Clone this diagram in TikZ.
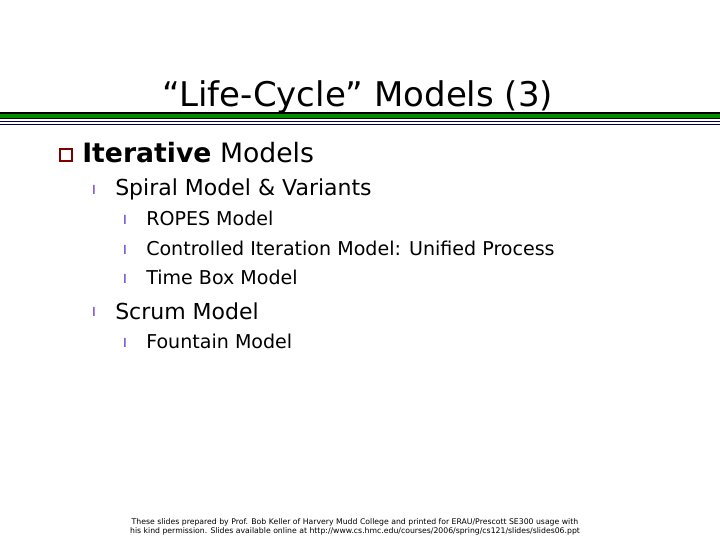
\documentclass[tikz,border=0pt]{standalone}
\usepackage{fontspec}
\setmainfont{DejaVu Sans}
\tikzset{x=0.75pt,y=-0.75pt,
 txt/.style={anchor=west,inner sep=0pt},
 lone/.style={txt,font=\fontsize{20}{24}\selectfont},
 ltwo/.style={txt,font=\fontsize{16.5}{20}\selectfont},
 lthree/.style={txt,font=\fontsize{14.3}{17}\selectfont},
 mk/.style={txt,text=blue!50!violet,font=\fontsize{9}{10}\selectfont}}
\begin{document}
\begin{tikzpicture}
\useasboundingbox (0,0) rectangle (720,540);
\node[inner sep=0pt,font=\fontsize{25.5}{30}\selectfont] (title) at (358,97) {“Life-Cycle” Models (3)};
\fill[black] (0,112) rectangle (720,119);
\fill[green!55!black] (0,113.5) rectangle (720,117.5);
\draw[blue!30!black,line width=1pt] (0,121.5) -- (720,121.5) (0,124.5) -- (720,124.5);
\node[draw=red!50!black,line width=1pt,minimum size=9pt,inner sep=0pt] (b1) at (66,155) {};
\node[lone] (t1) at (82,153) {\textbf{Iterative} Models};
\node[mk] (m1) at (92,190) {l};
\node[ltwo] (t2) at (115,189) {Spiral Model \& Variants};
\node[mk] (m2) at (123,220) {l};
\node[lthree] (t3) at (146,218) {ROPES Model};
\node[mk] (m3) at (123,250) {l};
\node[lthree] (t4) at (146,248) {Controlled Iteration Model: Unified Process};
\node[mk] (m4) at (123,279) {l};
\node[lthree] (t5) at (146,277) {Time Box Model};
\node[mk] (m5) at (92,312) {l};
\node[ltwo] (t6) at (115,311) {Scrum Model};
\node[mk] (m6) at (123,343) {l};
\node[lthree] (t7) at (146,341) {Fountain Model};
\node[inner sep=0pt,align=center,font=\fontsize{5.8}{7}\selectfont] (foot) at (355,527) {These slides prepared by Prof. Bob Keller of Harvery Mudd College and printed for ERAU/Prescott SE300 usage with\\his kind permission. Slides available online at http://www.cs.hmc.edu/courses/2006/spring/cs121/slides/slides06.ppt};
\end{tikzpicture}
\end{document}
